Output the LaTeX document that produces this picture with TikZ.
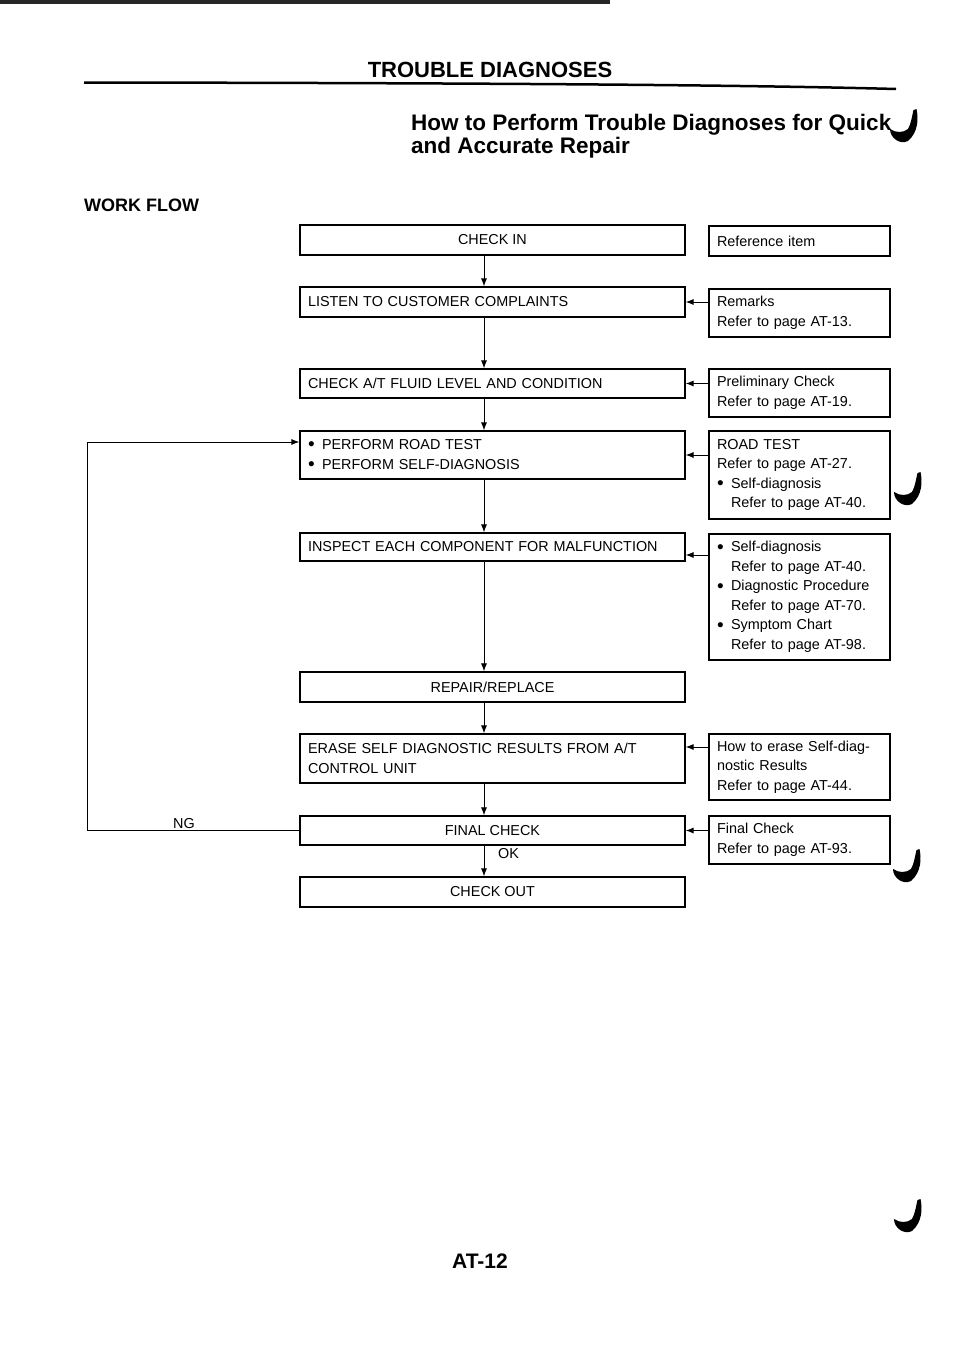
\documentclass[tikz,border=0pt]{standalone}
\usepackage{fontspec}
\setmainfont{Liberation Sans}
\usetikzlibrary{arrows.meta}
\newcommand\mainf{\fontsize{14.4}{19.5}\selectfont}
\newcommand\bl[1]{\makebox[14pt][l]{\raisebox{-1.2pt}{\fontsize{19}{0}\selectfont\textbullet}}#1}
\newcommand\ind{\hspace*{14pt}}
\begin{document}
\begin{tikzpicture}[x=1pt,y=-1pt,
  main/.style={draw, line width=1.1pt, minimum width=385pt, inner xsep=8pt, inner ysep=0pt, font=\mainf},
  mainl/.style={main, text width=369pt, align=left},
  refb/.style={draw, line width=1.1pt, text width=165pt, inner xsep=8pt, inner ysep=0pt, align=left, font=\mainf},
  arr/.style={line width=1pt, -{Latex[length=8pt,width=6pt]}},
  lbl/.style={anchor=base west, inner sep=0pt, font=\mainf},
  revmark/.pic={\fill (-2.5,0) -- (0.5,-1) .. controls (2.5,8) and (2.5,22) .. (-8,31) .. controls (-16,35) and (-26,28) .. (-26,19) .. controls (-20,23) and (-13,23) .. (-8,19) .. controls (-5,14) and (-4,6) .. (-2.5,0) -- cycle;}]
\useasboundingbox (0,0) rectangle (960,1358);
% scan edge band
\fill[black!85] (0,0) rectangle (610,4);
% header
\node[anchor=base, inner sep=0pt, font=\fontsize{22}{26}\selectfont\bfseries] (title) at (490,77) {TROUBLE DIAGNOSES};
\draw[line width=2.5pt] (84,82.5) .. controls (500,83) and (750,85) .. (896,89);
\node[anchor=base west, inner sep=0pt, align=left, font=\fontsize{22.5}{21}\selectfont\bfseries] (sub) at (411,153) {How to Perform Trouble Diagnoses for Quick\\and Accurate Repair};
\pic at (916,110) {revmark};
\node[anchor=base west, inner sep=0pt, font=\fontsize{18}{22}\selectfont\bfseries] (wf) at (84,211) {WORK FLOW};
% main column
\node[main, minimum height=30pt] (ci) at (492.5,240) {CHECK IN};
\node[mainl, minimum height=30pt] (lc) at (492.5,302) {LISTEN TO CUSTOMER COMPLAINTS};
\node[mainl, minimum height=29pt] (fl) at (492.5,383.5) {CHECK A/T FLUID LEVEL AND CONDITION};
\node[mainl, minimum height=48pt] (pr) at (492.5,455) {\bl{PERFORM ROAD TEST}\\\bl{PERFORM SELF-DIAGNOSIS}};
\node[mainl, minimum height=28pt] (in) at (492.5,547) {INSPECT EACH COMPONENT FOR MALFUNCTION};
\node[main, minimum height=30pt] (rp) at (492.5,687) {REPAIR/REPLACE};
\node[mainl, minimum height=49pt] (er) at (492.5,758.5) {ERASE SELF DIAGNOSTIC RESULTS FROM A/T\\CONTROL UNIT};
\node[main, minimum height=29pt] (fc) at (492.5,830.5) {FINAL CHECK};
\node[main, minimum height=30pt] (co) at (492.5,892) {CHECK OUT};
% reference column
\node[refb, minimum height=30pt] (r0) at (799.5,241) {Reference item};
\node[refb, minimum height=48pt] (r1) at (799.5,313) {Remarks\\Refer to page AT-13.};
\node[refb, minimum height=48pt] (r2) at (799.5,393) {Preliminary Check\\Refer to page AT-19.};
\node[refb, minimum height=88pt] (r3) at (799.5,475) {ROAD TEST\\Refer to page AT-27.\\\bl{Self-diagnosis}\\\ind Refer to page AT-40.};
\node[refb, minimum height=126pt] (r4) at (799.5,597) {\bl{Self-diagnosis}\\\ind Refer to page AT-40.\\\bl{Diagnostic Procedure}\\\ind Refer to page AT-70.\\\bl{Symptom Chart}\\\ind Refer to page AT-98.};
\node[refb, minimum height=66pt] (r5) at (799.5,767) {How to erase Self-diag-\\nostic Results\\Refer to page AT-44.};
\node[refb, minimum height=48pt] (r6) at (799.5,840) {Final Check\\Refer to page AT-93.};
\pic at (920,473) {revmark};
\pic at (919,850) {revmark};
\pic at (920,1200) {revmark};
% vertical flow arrows
\coordinate (ax) at (484,0);
\draw[arr] (ci.south -| ax) -- (lc.north -| ax);
\draw[arr] (lc.south -| ax) -- (fl.north -| ax);
\draw[arr] (fl.south -| ax) -- (pr.north -| ax);
\draw[arr] (pr.south -| ax) -- (in.north -| ax);
\draw[arr] (in.south -| ax) -- (rp.north -| ax);
\draw[arr] (rp.south -| ax) -- (er.north -| ax);
\draw[arr] (er.south -| ax) -- (fc.north -| ax);
\draw[arr] (fc.south -| ax) -- (co.north -| ax);
\node[lbl] (ok) at (498,858) {OK};
% reference arrows
\coordinate (inarr) at ([yshift=-8pt]in.east);
\coordinate (erarr) at ([yshift=11.5pt]er.east);
\draw[arr] (r1.west |- lc.east) -- (lc.east);
\draw[arr] (r2.west |- fl.east) -- (fl.east);
\draw[arr] (r3.west |- pr.east) -- (pr.east);
\draw[arr] (r4.west |- inarr) -- (inarr);
\draw[arr] (r5.west |- erarr) -- (erarr);
\draw[arr] (r6.west |- fc.east) -- (fc.east);
% NG loop
\coordinate (ngc) at (87,442);
\draw[arr] (fc.west) -| (ngc) -- (ngc -| pr.west);
\node[lbl] (ng) at (173,828) {NG};
% page number
\node[anchor=base west, inner sep=0pt, font=\fontsize{21}{24}\selectfont\bfseries] (pg) at (452,1268) {AT-12};
\end{tikzpicture}
\end{document}
